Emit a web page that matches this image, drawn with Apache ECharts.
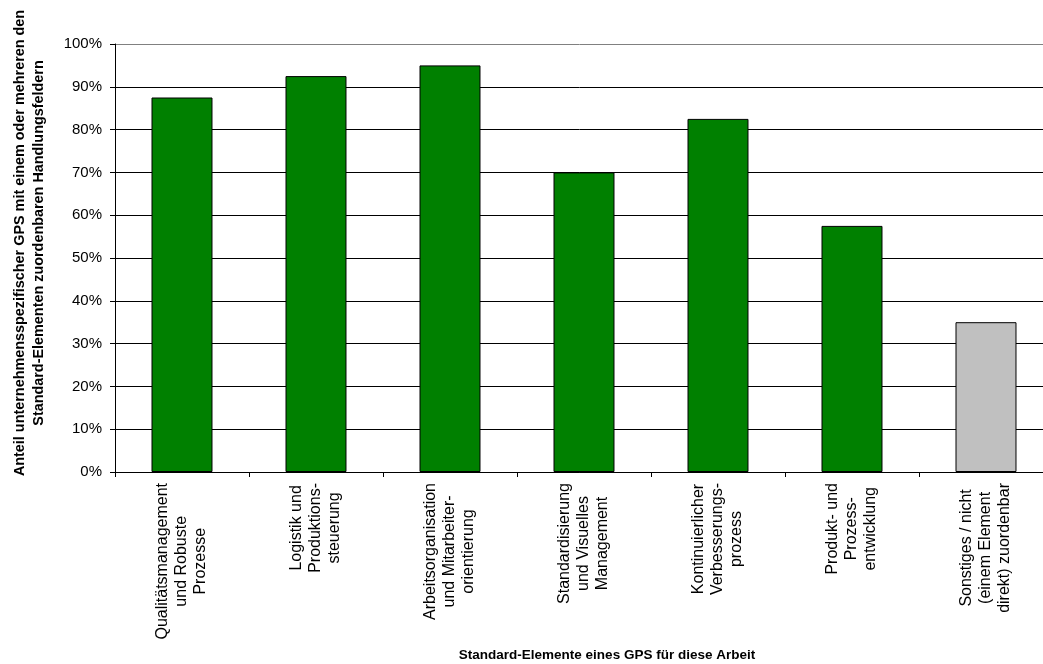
<!DOCTYPE html>
<html>
<head>
<meta charset="utf-8">
<script src="https://cdn.jsdelivr.net/npm/echarts@6/dist/echarts.min.js"></script>
<style>html,body{margin:0;padding:0;background:#fff}#c{width:1043px;height:664px}</style>
</head>
<body>
<div id="c"></div>
<script>
const categories = [
  "Qualitätsmanagement\nund Robuste\nProzesse",
  "Logistik und\nProduktions-\nsteuerung",
  "Arbeitsorganisation\nund Mitarbeiter-\norientierung",
  "Standardisierung\nund Visuelles\nManagement",
  "Kontinuierlicher\nVerbesserungs-\nprozess",
  "Produkt- und\nProzess-\nentwicklung",
  "Sonstiges / nicht\n(einem Element\ndirekt) zuordenbar"
];
const values = [87.5, 92.5, 95, 70, 82.5, 57.5, 35];
const barColors = ["#008000", "#008000", "#008000", "#008000", "#008000", "#008000", "#C0C0C0"];
const yTitle = "Anteil unternehmensspezifischer GPS mit einem oder mehreren den\nStandard-Elementen zuordenbaren Handlungsfeldern";
const xTitle = "Standard-Elemente eines GPS für diese Arbeit";

const FONT = "'Liberation Sans', Arial, sans-serif";
const chart = echarts.init(document.getElementById('c'), null, {renderer: 'canvas'});
const splitColors = [];
for (let i = 0; i < 10; i++) splitColors.push('#000000');
splitColors.push('#808080');

chart.setOption({
  animation: false,
  backgroundColor: '#ffffff',
  grid: {left: 115, top: 44, height: 428, width: 938, containLabel: false, outerBoundsMode: 'none'},
  xAxis: {
    type: 'category',
    data: categories,
    name: xTitle,
    nameLocation: 'middle',
    nameGap: 176,
    nameTextStyle: {fontFamily: FONT, fontSize: 13.5, fontWeight: 'bold', color: '#000', padding: [0, 0, 0, 46]},
    axisLine: {lineStyle: {color: '#000', width: 1}},
    axisTick: {show: true, alignWithLabel: false, length: 5, lineStyle: {color: '#000'}},
    axisLabel: {
      rotate: 90,
      margin: 11,
      interval: 0,
      color: '#000',
      fontFamily: FONT,
      fontSize: 16,
      formatter: function (v) {
        return v.split('\n').map(function (s) { return '{c|' + s + '}'; }).join('\n');
      },
      rich: {c: {align: 'center', fontFamily: FONT, fontSize: 16, lineHeight: 19, color: '#000'}}
    },
    splitLine: {show: false}
  },
  yAxis: {
    type: 'value',
    min: 0,
    max: 100,
    interval: 10,
    name: yTitle,
    nameLocation: 'middle',
    nameRotate: 90,
    nameGap: 66,
    nameTextStyle: {fontFamily: FONT, fontSize: 14.4, fontWeight: 'bold', color: '#000', lineHeight: 19, padding: [0, 0, 0, 30]},
    axisLine: {show: true, lineStyle: {color: '#000', width: 1}},
    axisTick: {show: true, length: 5, lineStyle: {color: '#000'}},
    axisLabel: {formatter: '{value}%', color: '#000', fontFamily: FONT, fontSize: 15, margin: 13},
    splitLine: {show: true, lineStyle: {color: splitColors, width: 1}}
  },
  series: [{
    type: 'bar',
    data: values.map(function (v, i) {
      return {value: v, itemStyle: {color: barColors[i]}};
    }),
    barWidth: '45.5%',
    itemStyle: {borderColor: '#000', borderWidth: 1}
  }]
});
</script>
</body>
</html>
